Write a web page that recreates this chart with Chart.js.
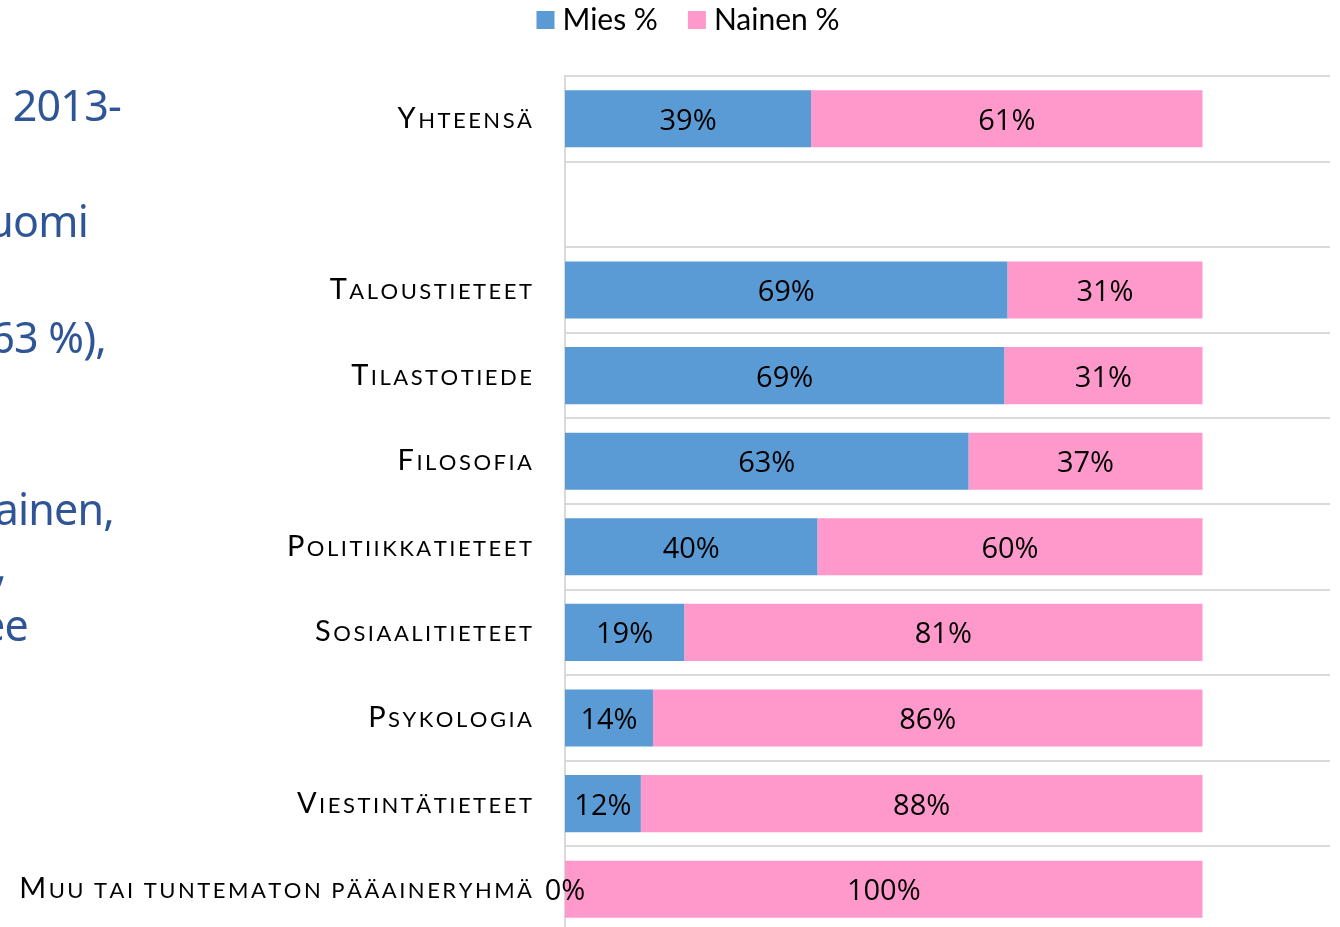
<!DOCTYPE html>
<html>
<head>
<meta charset="utf-8">
<script src="https://cdn.jsdelivr.net/npm/chart.js@4.4.1/dist/chart.umd.min.js"></script>
<style>
  html, body { margin: 0; padding: 0; background: #fff; overflow: hidden; width: 1340px; height: 927px; }
  #wrap { position: relative; width: 1340px; height: 927px; overflow: hidden; }
  canvas { position: absolute; left: 0; top: 0; }
  .side { position: absolute; font-family: "Noto Sans", "Open Sans", sans-serif; font-size: 43px; letter-spacing: -0.8px; color: #2F5597; white-space: nowrap; line-height: 1; text-align: right; }
</style>
</head>
<body>
<div id="wrap">
  <canvas id="c" width="1340" height="935"></canvas>
  <div class="side" style="right:1219px; top:83px;">2013-</div>
  <div class="side" style="right:1252px; top:199px;">uomi</div>
  <div class="side" style="right:1234px; top:315px;">63 %),</div>
  <div class="side" style="right:1226px; top:487px;">ainen,</div>
  <div class="side" style="right:1334px; top:543px;">,</div>
  <div class="side" style="right:1312px; top:603px;">ee</div>
</div>
<script>
const categories = ["Yhteensä", "", "Taloustieteet", "Tilastotiede", "Filosofia", "Politiikkatieteet", "Sosiaalitieteet", "Psykologia", "Viestintätieteet", "Muu tai tuntematon pääaineryhmä"];
const miesValues = [38.6, null, 69.4, 68.9, 63.3, 39.6, 18.7, 13.8, 11.9, 0];
const nainenValues = [61.4, null, 30.6, 31.1, 36.7, 60.4, 81.3, 86.2, 88.1, 100];
const seriesNames = ["Mies %", "Nainen %"];
const seriesColors = ["#5B9BD5", "#FF99CC"];

const labelPlugin = {
  id: 'customLabels',
  afterDatasetsDraw(chart) {
    const ctx = chart.ctx;
    ctx.save();
    // data labels
    ctx.fillStyle = '#000';
    ctx.font = '29px "Open Sans", "Noto Sans", sans-serif';
    ctx.textAlign = 'center';
    ctx.textBaseline = 'alphabetic';
    chart.data.datasets.forEach((ds, di) => {
      const meta = chart.getDatasetMeta(di);
      meta.data.forEach((bar, i) => {
        const v = ds.data[i];
        if (v === null || v === undefined) return;
        const cx = (bar.x + bar.base) / 2;
        ctx.fillText(Math.round(v) + '%', cx, bar.y + 11);
      });
    });
    // category labels in small caps
    const yScale = chart.scales.y;
    const rightX = 532;
    const bigFont = '29px Lato, "Open Sans", sans-serif';
    const smallFont = '22px Lato, "Open Sans", sans-serif';
    const spacing = 2.5;
    ctx.textAlign = 'left';
    categories.forEach((cat, i) => {
      if (!cat) return;
      const y = yScale.getPixelForValue(i) + 9;
      const first = cat.charAt(0).toUpperCase();
      const rest = cat.slice(1).toUpperCase();
      ctx.font = bigFont;
      const w1 = ctx.measureText(first).width + spacing;
      ctx.font = smallFont;
      let w2 = 0;
      for (const ch of rest) w2 += ctx.measureText(ch).width + spacing;
      w2 -= spacing;
      let x = rightX - (w1 + w2);
      ctx.font = bigFont;
      ctx.fillText(first, x, y);
      x += w1;
      ctx.font = smallFont;
      for (const ch of rest) {
        ctx.fillText(ch, x, y);
        x += ctx.measureText(ch).width + spacing;
      }
    });
    // legend
    ctx.font = '30px Lato, "Open Sans", sans-serif';
    const box = 18, gapText = 8, gapItem = 30;
    const widths = chart.data.datasets.map(d => ctx.measureText(d.label).width);
    let total = 0;
    widths.forEach((w, k) => { total += box + gapText + w + (k < widths.length - 1 ? gapItem : 0); });
    let lx = 688 - total / 2;
    chart.data.datasets.forEach((d, k) => {
      ctx.fillStyle = d.backgroundColor;
      ctx.fillRect(lx, 11, box, box);
      ctx.fillStyle = '#000';
      ctx.fillText(d.label, lx + box + gapText, 30);
      lx += box + gapText + widths[k] + gapItem;
    });
    ctx.restore();
  }
};

new Chart(document.getElementById('c'), {
  type: 'bar',
  data: {
    labels: categories,
    datasets: [
      { label: seriesNames[0], data: miesValues, backgroundColor: seriesColors[0], barPercentage: 0.667, categoryPercentage: 1 },
      { label: seriesNames[1], data: nainenValues, backgroundColor: seriesColors[1], barPercentage: 0.667, categoryPercentage: 1 }
    ]
  },
  options: {
    indexAxis: 'y',
    responsive: false,
    animation: false,
    devicePixelRatio: 1,
    layout: { padding: { left: 30, right: 10, top: 0, bottom: 3 } },
    plugins: {
      legend: { display: false },
      tooltip: { enabled: false }
    },
    scales: {
      x: {
        position: 'top',
        stacked: true, min: 0, max: 120,
        ticks: { display: false },
        grid: { display: false },
        border: { display: false },
        afterFit: (s) => { s.height = 76; }
      },
      y: {
        stacked: true,
        ticks: { display: false },
        grid: { color: '#D9D9D9', lineWidth: 2, drawTicks: false, offset: true },
        border: { color: '#D9D9D9', width: 2 },
        afterFit: (s) => { s.width = 535; }
      }
    }
  },
  plugins: [labelPlugin]
});
</script>
</body>
</html>
